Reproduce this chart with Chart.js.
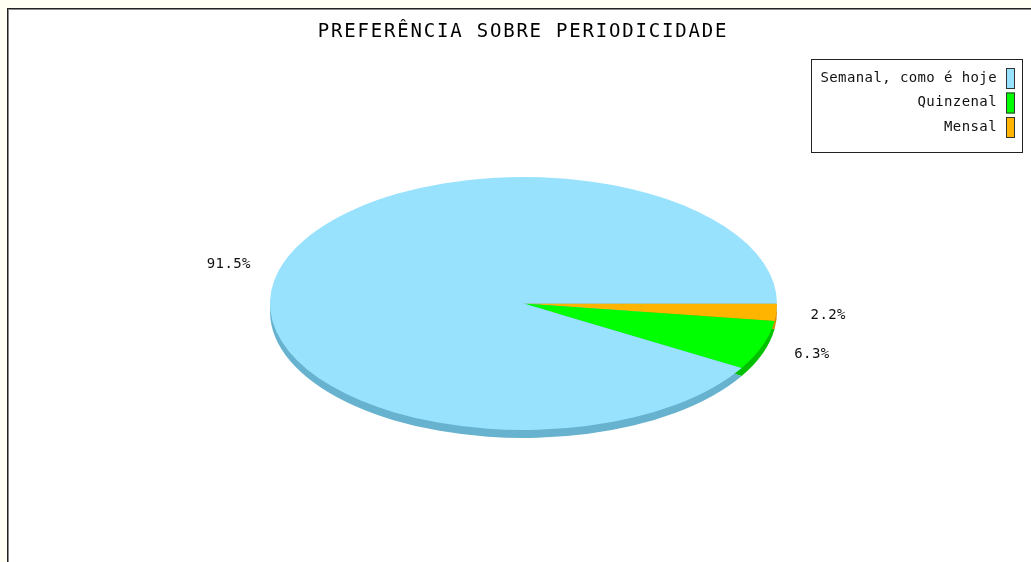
<!DOCTYPE html>
<html>
<head>
<meta charset="utf-8">
<script src="https://cdn.jsdelivr.net/npm/chart.js@4"></script>
<style>
    html, body { margin: 0; padding: 0; background: #fffff4; }
    #wrap { width: 1031px; height: 562px; }
</style>
</head>
<body>
<div id="wrap"><canvas id="periodPie" width="1031" height="562"></canvas></div>
<script>
// data, in legend order
const categories = ["Semanal, como é hoje", "Quinzenal", "Mensal"];
const percentages = [91.5, 6.3, 2.2];
const sliceColors = ["#98e2fe", "#00ff00", "#ffb400"];
const sideColors = ["#66b2cf", "#00c000", "#d08c00"];
const titleText = "PREFERÊNCIA SOBRE PERIODICIDADE";

const squash = 0.499;   // ellipse height / width
const depth = 8;        // 3d rim thickness
const monoFont = "'DejaVu Sans Mono', 'Liberation Mono', monospace";

// the pie is drawn counter-clockwise from 3 o'clock in the original,
// so the chart gets the slices in reverse order
const drawOrder = categories.map((c, i) => i).reverse();

const framePlugin = {
    id: "frame",
    beforeDraw(chart) {
        const ctx = chart.ctx;
        ctx.save();
        ctx.fillStyle = "#fffff4";
        ctx.fillRect(0, 0, chart.width, chart.height);
        ctx.fillStyle = "#ffffff";
        ctx.fillRect(7, 8, chart.width, chart.height);
        ctx.fillStyle = "#222222";
        ctx.fillRect(7, 8, chart.width, 1);
        ctx.fillRect(7, 8, 1, chart.height);
        ctx.fillStyle = "#888888";
        ctx.fillRect(8, 9, chart.width, 1);
        ctx.fillRect(8, 9, 1, chart.height);

        ctx.fillStyle = "#000000";
        ctx.font = "19px " + monoFont;
        ctx.letterSpacing = "1.8px";
        ctx.textAlign = "center";
        ctx.textBaseline = "middle";
        ctx.fillText(titleText, 523, 32);
        ctx.restore();
    }
};

const pie3dPlugin = {
    id: "pie3d",
    beforeDatasetsDraw(chart) {
        const ctx = chart.ctx;
        const arcs = chart.getDatasetMeta(0).data;
        const cx = arcs[0].x, cy = arcs[0].y;
        ctx.save();
        ctx.translate(cx, cy);
        ctx.scale(1, squash);
        ctx.translate(-cx, -cy);

        // rim: same slices pushed down and darker
        ctx.save();
        ctx.translate(0, depth / squash);
        arcs.forEach((arc, i) => {
            ctx.beginPath();
            ctx.moveTo(arc.x, arc.y);
            ctx.arc(arc.x, arc.y, arc.outerRadius, arc.startAngle, arc.endAngle);
            ctx.closePath();
            ctx.fillStyle = sideColors[drawOrder[i]];
            ctx.fill();
        });
        ctx.restore();
    },
    afterDatasetsDraw(chart) {
        const ctx = chart.ctx;
        ctx.restore();

        // percentage labels outside the ellipse
        const arcs = chart.getDatasetMeta(0).data;
        ctx.save();
        ctx.fillStyle = "#111111";
        ctx.font = "14px " + monoFont;
        ctx.letterSpacing = "0.4px";
        ctx.textAlign = "center";
        ctx.textBaseline = "middle";
        arcs.forEach((arc, i) => {
            const mid = (arc.startAngle + arc.endAngle) / 2;
            const r = arc.outerRadius + 52;
            const x = arc.x + r * Math.cos(mid);
            const y = arc.y + r * squash * Math.sin(mid) + 1;
            ctx.fillText(percentages[drawOrder[i]].toFixed(1) + "%", x, y);
        });
        ctx.restore();
    },
    afterDraw(chart) {
        // legend box, text right aligned, swatch on the right
        const ctx = chart.ctx;
        ctx.save();
        ctx.fillStyle = "#ffffff";
        ctx.fillRect(811, 59, 211, 93);
        ctx.strokeStyle = "#222222";
        ctx.lineWidth = 1;
        ctx.strokeRect(811.5, 59.5, 211, 93);

        ctx.font = "14px " + monoFont;
        ctx.letterSpacing = "0.4px";
        ctx.textAlign = "right";
        ctx.textBaseline = "middle";
        categories.forEach((label, i) => {
            const y = 78 + i * 24.5;
            ctx.fillStyle = "#111111";
            ctx.fillText(label, 997, y);
            ctx.fillStyle = sliceColors[i];
            ctx.fillRect(1006, y - 10, 9, 21);
            ctx.strokeStyle = "#333333";
            ctx.strokeRect(1006.5, y - 9.5, 8, 20);
        });
        ctx.restore();
    }
};

const pieCanvas = document.getElementById("periodPie");

new Chart(pieCanvas, {
    type: "pie",
    data: {
        labels: drawOrder.map(i => categories[i]),
        datasets: [
            {
                data: drawOrder.map(i => percentages[i]),
                backgroundColor: drawOrder.map(i => sliceColors[i]),
                borderWidth: 0
            }
        ]
    },
    options: {
        responsive: false,
        animation: false,
        rotation: 90,
        layout: {
            padding: { left: 270, right: 254, top: 50, bottom: 5 }
        },
        plugins: {
            legend: { display: false },
            title: { display: false },
            tooltip: { enabled: false }
        },
        events: []
    },
    plugins: [framePlugin, pie3dPlugin]
});
</script>
</body>
</html>
